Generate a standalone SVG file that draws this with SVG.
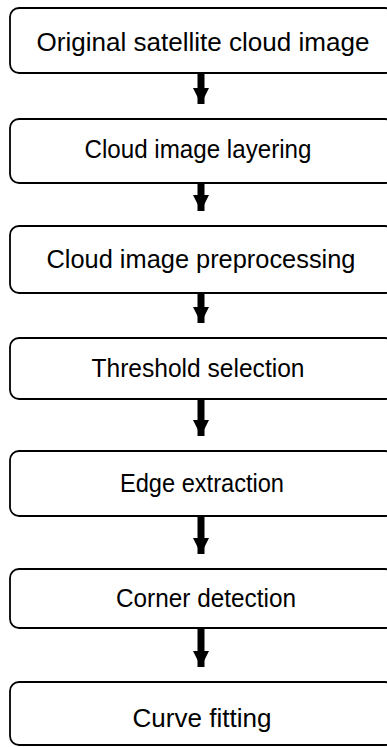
<svg xmlns="http://www.w3.org/2000/svg" width="387" height="747" viewBox="0 0 387 747">
<style>
.box{fill:#fff;stroke:#000;stroke-width:1.8}
.lbl{font-family:"Liberation Sans",Arial,sans-serif;font-size:25px;fill:#000;text-anchor:middle}
.arr{stroke:#000;stroke-width:7;fill:none}
</style>
<defs>
<marker id="ah" markerUnits="userSpaceOnUse" markerWidth="18" markerHeight="16" refX="16" refY="8" orient="auto">
<path d="M0,0 L16,8 L0,16 Z" fill="#000"/>
</marker>
</defs>
<rect width="387" height="747" fill="#fff"/>
<g id="connectors">
<line class="arr" x1="201" y1="73" x2="201" y2="104" marker-end="url(#ah)"/>
<line class="arr" x1="201" y1="183" x2="201" y2="211" marker-end="url(#ah)"/>
<line class="arr" x1="201" y1="293" x2="201" y2="323" marker-end="url(#ah)"/>
<line class="arr" x1="201" y1="399" x2="201" y2="436" marker-end="url(#ah)"/>
<line class="arr" x1="201" y1="516" x2="201" y2="554" marker-end="url(#ah)"/>
<line class="arr" x1="201" y1="628" x2="201" y2="667" marker-end="url(#ah)"/>
</g>
<g id="n1"><rect class="box" x="10" y="8" width="384" height="65" rx="9"/><text class="lbl" x="203" y="51" textLength="333" lengthAdjust="spacingAndGlyphs">Original satellite cloud image</text></g>
<g id="n2"><rect class="box" x="10" y="119" width="384" height="64" rx="9"/><text class="lbl" x="198" y="158" textLength="227" lengthAdjust="spacingAndGlyphs">Cloud image layering</text></g>
<g id="n3"><rect class="box" x="10" y="226" width="384" height="67" rx="9"/><text class="lbl" x="201" y="268" textLength="309" lengthAdjust="spacingAndGlyphs">Cloud image preprocessing</text></g>
<g id="n4"><rect class="box" x="10" y="338" width="384" height="61" rx="9"/><text class="lbl" x="198" y="377" textLength="213" lengthAdjust="spacingAndGlyphs">Threshold selection</text></g>
<g id="n5"><rect class="box" x="10" y="451" width="384" height="65" rx="9"/><text class="lbl" x="202" y="492" textLength="164" lengthAdjust="spacingAndGlyphs">Edge extraction</text></g>
<g id="n6"><rect class="box" x="10" y="569" width="384" height="59" rx="9"/><text class="lbl" x="206" y="607" textLength="180" lengthAdjust="spacingAndGlyphs">Corner detection</text></g>
<g id="n7"><rect class="box" x="10" y="682" width="384" height="63" rx="9"/><text class="lbl" x="202" y="727" textLength="139" lengthAdjust="spacingAndGlyphs">Curve fitting</text></g>
</svg>
